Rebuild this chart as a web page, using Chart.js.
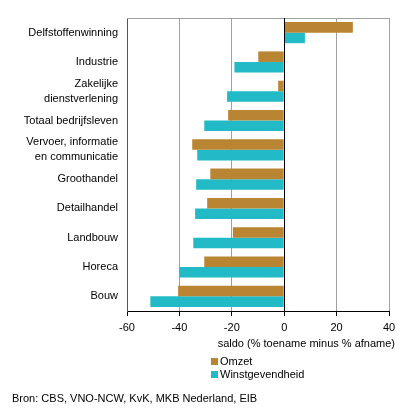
<!DOCTYPE html>
<html>
<head>
<meta charset="utf-8">
<script src="https://cdn.jsdelivr.net/npm/chart.js@4"></script>
<style>
  html, body { margin: 0; padding: 0; background: #fff; }
  #wrap { position: relative; width: 406px; height: 411px; font-family: 'Liberation Sans', Arial, sans-serif; font-size: 11px; color: #000; }
  #chart { position: absolute; left: 0; top: 0; }
  .abs { position: absolute; white-space: nowrap; line-height: 13px; }
  .sw { display: inline-block; width: 7px; height: 7px; margin-right: 2px; vertical-align: 0px; }
</style>
</head>
<body>
<div id="wrap">
  <canvas id="chart" width="406" height="411"></canvas>
  <div class="abs" id="axisTitle" style="right: 11px; top: 337px;">saldo (% toename minus % afname)</div>
  <div class="abs" id="legend" style="left: 211px; top: 355px;"></div>
  <div class="abs" id="source" style="left: 12px; top: 392px;">Bron: CBS, VNO-NCW, KvK, MKB Nederland, EIB</div>
</div>
<script>
// Data
const categories = [
  'Delfstoffenwinning',
  'Industrie',
  ['Zakelijke', 'dienstverlening'],
  'Totaal bedrijfsleven',
  ['Vervoer, informatie', 'en communicatie'],
  'Groothandel',
  'Detailhandel',
  'Landbouw',
  'Horeca',
  'Bouw'
];
const omzet = [26.2, -9.9, -2.3, -21.4, -35.1, -28.2, -29.4, -19.6, -30.5, -40.5];
const winstgevendheid = [7.9, -19.0, -21.8, -30.5, -33.2, -33.6, -34.0, -34.7, -40.0, -51.1];
const xTicks = [-60, -40, -20, 0, 20, 40];

const seriesNames = ['Omzet', 'Winstgevendheid'];
const seriesColors = ['#B98532', '#21BAC6'];

// -------- Legend (html) --------
document.getElementById('legend').innerHTML = seriesNames.map((n, i) =>
  `<div><span class="sw" style="background:${seriesColors[i]}"></span>${n}</div>`
).join('');

Chart.defaults.font.family = "'Liberation Sans', Arial, sans-serif";
Chart.defaults.font.size = 11;
Chart.defaults.color = '#000';

// top border + zero line drawn over the bars
const frame = {
  id: 'frame',
  afterDatasetsDraw(chart) {
    const { ctx, chartArea: a, scales } = chart;
    ctx.save();
    ctx.lineWidth = 1;
    ctx.strokeStyle = '#a0a0a0';
    ctx.beginPath();
    ctx.moveTo(a.left, a.top + 0.5);
    ctx.lineTo(a.right, a.top + 0.5);
    ctx.stroke();
    const x0 = Math.round(scales.x.getPixelForValue(0)) + 0.5;
    ctx.strokeStyle = '#000';
    ctx.beginPath();
    ctx.moveTo(x0, a.top);
    ctx.lineTo(x0, a.bottom);
    ctx.stroke();
    ctx.restore();
  }
};

new Chart(document.getElementById('chart'), {
  type: 'bar',
  data: {
    labels: categories,
    datasets: [
      { label: seriesNames[0], data: omzet, backgroundColor: seriesColors[0] },
      { label: seriesNames[1], data: winstgevendheid, backgroundColor: seriesColors[1] }
    ]
  },
  options: {
    indexAxis: 'y',
    responsive: false,
    animation: false,
    devicePixelRatio: 1,
    layout: { padding: { top: 18, right: 17, left: 0, bottom: 0 } },
    categoryPercentage: 0.72,
    barPercentage: 1.0,
    plugins: { legend: { display: false }, tooltip: { enabled: false } },
    scales: {
      x: {
        min: -60,
        max: 40,
        afterBuildTicks: s => { s.ticks = xTicks.map(v => ({ value: v })); },
        afterFit: s => { s.height = 100; },
        ticks: { padding: 5, color: '#000' },
        grid: {
          color: c => (c.tick && c.tick.value === 0) ? '#000' : '#a0a0a0',
          tickColor: '#000',
          tickLength: 5
        },
        border: { color: '#000' }
      },
      y: {
        afterFit: s => { s.width = 127; },
        ticks: { padding: 9, color: '#000', autoSkip: false, font: { lineHeight: 1.35 } },
        grid: { display: false, drawTicks: false },
        border: { color: '#555' }
      }
    }
  },
  plugins: [frame]
});
</script>
</body>
</html>
